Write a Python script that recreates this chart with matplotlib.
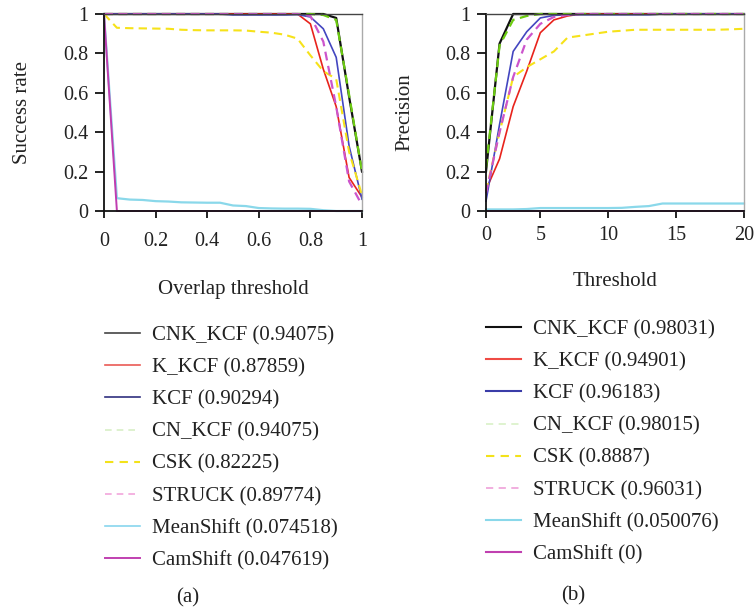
import matplotlib
matplotlib.use("Agg")
import matplotlib.pyplot as plt
from matplotlib.lines import Line2D

plt.rcParams['font.family'] = ['Liberation Serif', 'DejaVu Serif']

# ---------------- data: (a) success plot ----------------
overlap = [0.0, 0.05, 0.1, 0.15, 0.2, 0.25, 0.3, 0.35, 0.4, 0.45, 0.5,
           0.55, 0.6, 0.65, 0.7, 0.75, 0.8, 0.85, 0.9, 0.95, 1.0]
succ_cnk_kcf = [1, 1, 1, 1, 1, 1, 1, 1, 1, 1, 1, 1, 1, 1, 1, 1, 1, 1, 0.98, 0.58, 0.2]
succ_k_kcf = [1, 1, 1, 1, 1, 1, 1, 1, 1, 1, 1, 1, 1, 1, 1, 1, 0.95, 0.72, 0.53, 0.17, 0.07]
succ_kcf = [1, 1, 1, 1, 1, 1, 1, 1, 1, 1, 0.995, 0.995, 0.995, 0.995, 0.995, 0.997,
            0.985, 0.925, 0.78, 0.33, 0.06]
succ_cn_kcf = [1, 1, 1, 1, 1, 1, 1, 1, 1, 1, 1, 1, 1, 1, 1, 1, 1, 0.995, 0.97, 0.59, 0.2]
succ_csk = [1.0, 0.93, 0.928, 0.927, 0.926, 0.925, 0.92, 0.918, 0.917, 0.917, 0.917,
            0.916, 0.91, 0.905, 0.895, 0.875, 0.79, 0.71, 0.67, 0.30, 0.08]
succ_struck = [1, 1, 1, 1, 1, 1, 1, 1, 1, 1, 1, 1, 1, 1, 1, 1, 0.99, 0.86, 0.53, 0.15, 0.03]
succ_meanshift = [1.0, 0.065, 0.058, 0.056, 0.05, 0.048, 0.044, 0.043, 0.042, 0.042, 0.028,
                  0.025, 0.015, 0.013, 0.012, 0.012, 0.011, 0.004, 0, 0, 0]
succ_camshift = [1.0] + [0] * 20

labels_a = ["CNK_KCF (0.94075)", "K_KCF (0.87859)", "KCF (0.90294)", "CN_KCF (0.94075)",
            "CSK (0.82225)", "STRUCK (0.89774)", "MeanShift (0.074518)", "CamShift (0.047619)"]

# ---------------- data: (b) precision plot ----------------
thresh = [1, 2, 3, 4, 5, 6, 7, 8, 9, 10, 11, 12, 13, 14, 15, 16, 17, 18, 19, 20]
prec_cnk_kcf = [0.2, 0.85, 1.0, 1, 1, 1, 1, 1, 1, 1, 1, 1, 1, 1, 1, 1, 1, 1, 1, 1]
prec_k_kcf = [0.107, 0.265, 0.53, 0.71, 0.905, 0.97, 0.99, 1, 1, 1, 1, 1, 1, 1, 1, 1, 1, 1, 1, 1]
prec_kcf = [0.05, 0.44, 0.81, 0.91, 0.98, 0.993, 0.996, 0.996, 0.996, 0.996, 0.996, 0.996,
            0.996, 1, 1, 1, 1, 1, 1, 1]
prec_cn_kcf = [0.22, 0.84, 0.97, 0.99, 1, 1, 1, 1, 1, 1, 1, 1, 1, 1, 1, 1, 1, 1, 1, 1]
prec_csk = [0.1, 0.40, 0.68, 0.73, 0.77, 0.81, 0.88, 0.89, 0.90, 0.91, 0.915, 0.92, 0.92,
            0.92, 0.92, 0.92, 0.92, 0.92, 0.922, 0.925]
prec_struck = [0.09, 0.40, 0.68, 0.87, 0.95, 0.985, 0.995, 1, 1, 1, 1, 1, 1, 1, 1, 1, 1, 1, 1, 1]
prec_meanshift = [0.008, 0.008, 0.008, 0.01, 0.015, 0.015, 0.015, 0.015, 0.015, 0.015, 0.016,
                  0.021, 0.025, 0.038, 0.038, 0.038, 0.038, 0.038, 0.038, 0.038]
prec_camshift = [0] * 20

labels_b = ["CNK_KCF (0.98031)", "K_KCF (0.94901)", "KCF (0.96183)", "CN_KCF (0.98015)",
            "CSK (0.8887)", "STRUCK (0.96031)", "MeanShift (0.050076)", "CamShift (0)"]

x_ticks_b = [1, 5, 10, 15, 20]
x_ticklabels_b = ["0", "5", "10", "15", "20"]

# ---------------- styles ----------------
DASH = (0, (4, 2.5))
plot_styles = [
    dict(color="#111111", ls="-", lw=1.6),
    dict(color="#e8231c", ls="-", lw=1.2),
    dict(color="#4346c0", ls="-", lw=1.2),
    dict(color="#6ccc10", ls=DASH, lw=1.6),
    dict(color="#f6e21a", ls=DASH, lw=1.5),
    dict(color="#cc55cc", ls=DASH, lw=1.6),
    dict(color="#8ad8ea", ls="-", lw=1.6),
    dict(color="#c03cb0", ls="-", lw=1.4),
]
legend_styles_a = [
    dict(color="#444444", ls="-", lw=1.2),
    dict(color="#ea5a55", ls="-", lw=1.2),
    dict(color="#30307f", ls="-", lw=1.2),
    dict(color="#d8efc6", ls=(0, (4, 3)), lw=1.2),
    dict(color="#f3e21a", ls=(0, (4, 3)), lw=1.5),
    dict(color="#f2a6dc", ls=(0, (4, 3)), lw=1.2),
    dict(color="#88d6ee", ls="-", lw=1.2),
    dict(color="#c040b0", ls="-", lw=1.4),
]
legend_styles_b = [
    dict(color="#111111", ls="-", lw=1.5),
    dict(color="#ef4b45", ls="-", lw=1.5),
    dict(color="#3a3ca8", ls="-", lw=1.5),
    dict(color="#dcf2cc", ls=(0, (4, 3)), lw=1.3),
    dict(color="#f3e21a", ls=(0, (4, 3)), lw=1.5),
    dict(color="#f0a8dc", ls=(0, (4, 3)), lw=1.3),
    dict(color="#8ad8ea", ls="-", lw=1.5),
    dict(color="#c040b0", ls="-", lw=1.5),
]

fig = plt.figure(figsize=(7.55, 6.12), dpi=100)
W, H = 755.0, 612.0
ax_a = fig.add_axes([104 / W, 1 - 211 / H, 258 / W, 197 / H])
ax_b = fig.add_axes([486 / W, 1 - 211 / H, 258 / W, 197 / H])

series_a = [succ_cnk_kcf, succ_k_kcf, succ_kcf, succ_cn_kcf, succ_csk, succ_struck,
            succ_meanshift, succ_camshift]
series_b = [prec_cnk_kcf, prec_k_kcf, prec_kcf, prec_cn_kcf, prec_csk, prec_struck,
            prec_meanshift, prec_camshift]

for ys, st in zip(series_a, plot_styles):
    ax_a.plot(overlap, ys, clip_on=False, **st)
for ys, st in zip(series_b, plot_styles):
    ax_b.plot(thresh, ys, clip_on=False, **st)

def style_axes(ax):
    ax.set_ylim(0, 1)
    ax.set_yticks([0, 0.2, 0.4, 0.6, 0.8, 1])
    ax.set_yticklabels(["0", "0.2", "0.4", "0.6", "0.8", "1"])
    ax.spines['left'].set_color('#111111')
    ax.spines['bottom'].set_color('#111111')
    ax.spines['left'].set_linewidth(1.3)
    ax.spines['bottom'].set_linewidth(1.3)
    ax.spines['top'].set_color('#444444')
    ax.spines['top'].set_linewidth(1.0)
    ax.spines['right'].set_color('#aaaaaa')
    ax.spines['right'].set_linewidth(1.0)
    ax.tick_params(axis='y', direction='out', length=6.5, width=1.3, pad=5,
                   labelsize=14.5, colors='#111111', labelcolor='#222222')
    ax.tick_params(axis='x', direction='out', length=5, width=1.3,
                   labelsize=14.5, colors='#111111', labelcolor='#222222')

style_axes(ax_a)
style_axes(ax_b)

ax_a.set_xlim(0, 1)
ax_a.set_xticks([0, 0.2, 0.4, 0.6, 0.8, 1])
ax_a.set_xticklabels(["0", "0.2", "0.4", "0.6", "0.8", "1"])
ax_a.tick_params(axis='x', pad=10)
ax_a.set_xlabel("Overlap threshold", fontsize=15, labelpad=21, color='#222222')
ax_a.set_ylabel("Success rate", fontsize=15, labelpad=22, color='#222222')

ax_b.set_xlim(1, 20)
ax_b.set_xticks(x_ticks_b)
ax_b.set_xticklabels(x_ticklabels_b)
ax_b.tick_params(axis='x', pad=6)
ax_b.set_xlabel("Threshold", fontsize=15, labelpad=19, color='#222222')
ax_b.set_ylabel("Precision", fontsize=15, labelpad=22, color='#222222')

handles_a = [Line2D([], [], **st) for st in legend_styles_a]
handles_b = [Line2D([], [], **st) for st in legend_styles_b]

leg_kw = dict(frameon=False, fontsize=15, handlelength=1.68, handletextpad=0.58,
              labelspacing=0.6, borderpad=0, borderaxespad=0, loc='upper left',
              labelcolor='#222222')
fig.legend(handles_a, labels_a, bbox_to_anchor=(105 / W, 1 - 326 / H), **leg_kw)
fig.legend(handles_b, labels_b, bbox_to_anchor=(486 / W, 1 - 320 / H), **leg_kw)

fig.text(188 / W, 1 - 598 / H, "(a)", fontsize=15, ha='center', va='center', color='#222222')
fig.text(573 / W, 1 - 596 / H, "(b)", fontsize=15, ha='center', va='center', color='#222222')

fig.savefig("out.png", dpi=100)
